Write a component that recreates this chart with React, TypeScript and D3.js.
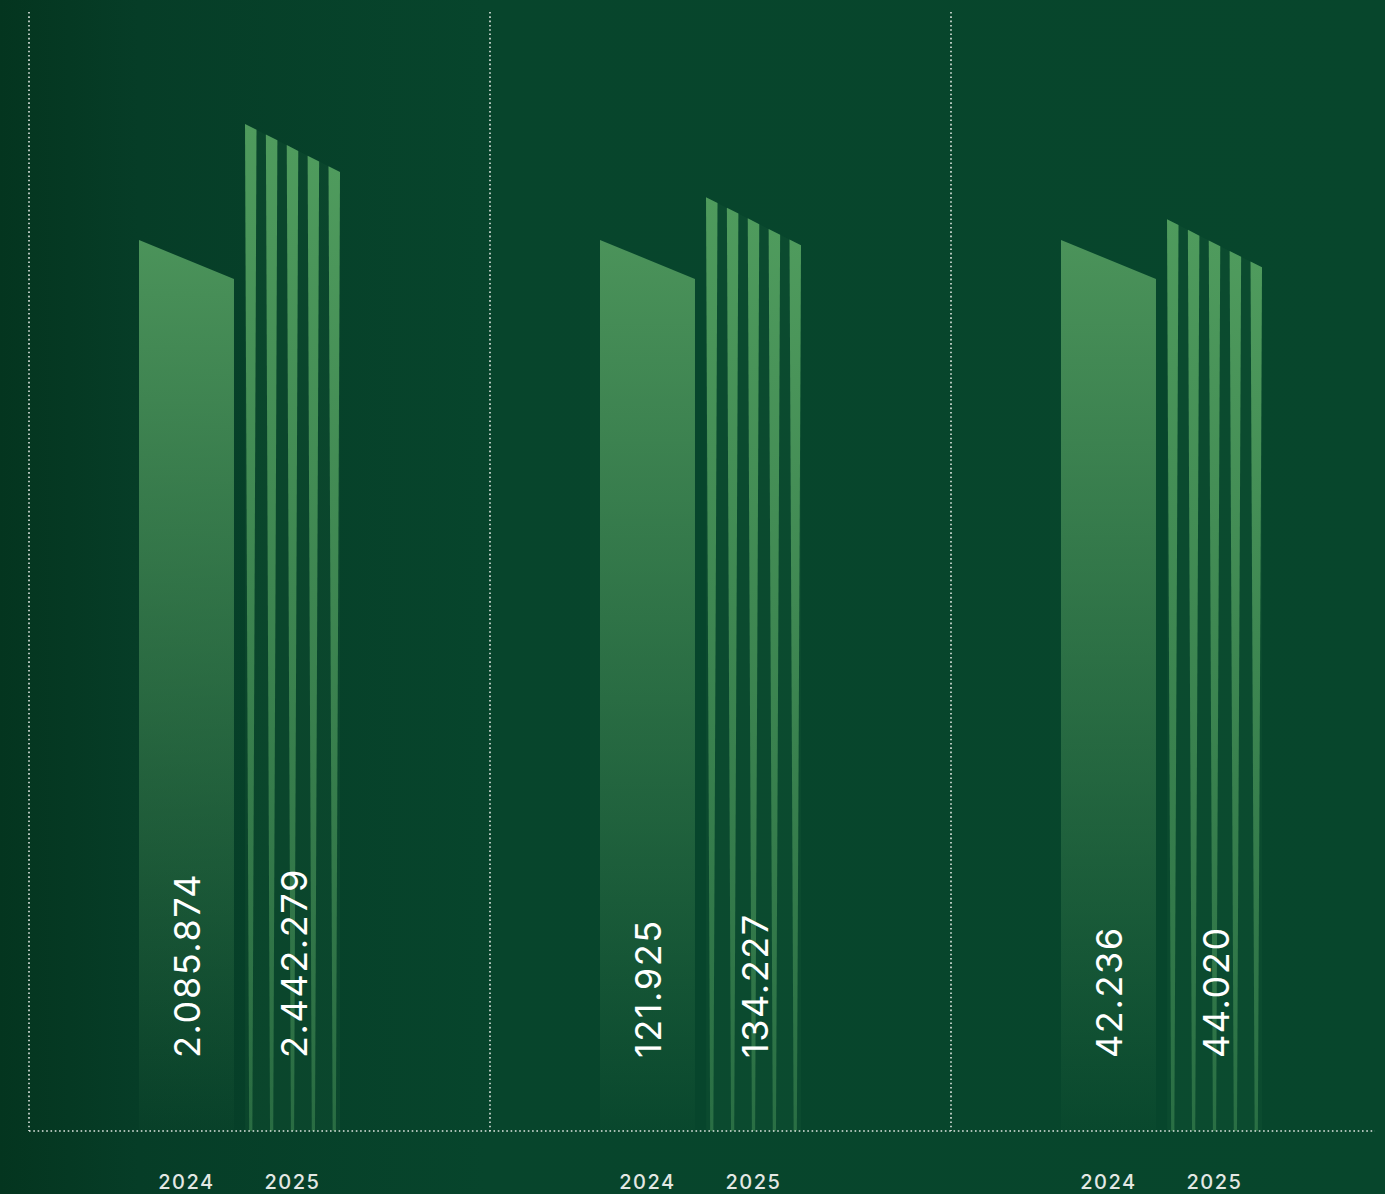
import React, { useEffect, useRef } from "react";
import * as d3 from "d3";

// one facet per metric, two years each
const groups = ["a", "b", "c"];
const years = ["2024", "2025"];
const values2024 = [2085874, 121925, 42236];
const values2025 = [2442279, 134227, 44020];
// each facet has its own truncated value axis
const axisFloor = [-651700, -134775, -34554];
const axisCeil = [2786400, 187600, 61886];
const stripeIds = [0, 1, 2, 3, 4];

const W = 1385;
const H = 1194;

const App: React.FC = () => {
  const ref = useRef<SVGSVGElement>(null);

  useEffect(() => {
    if (!ref.current) return;
    const svg = d3.select(ref.current);
    svg.selectAll("*").remove();

    const baseline = 1131;
    const plotTop = 12;
    const facetLeft = 29;
    const facetWidth = 461;

    const fmt = d3
      .formatLocale({ decimal: ",", thousands: ".", grouping: [3], currency: ["", ""] })
      .format(",");

    const defs = svg.append("defs");

    const bg = defs.append("linearGradient").attr("id", "bg").attr("x1", 0).attr("x2", 1).attr("y1", 0).attr("y2", 0);
    bg.append("stop").attr("offset", "0%").attr("stop-color", "#04351f");
    bg.append("stop").attr("offset", "10%").attr("stop-color", "#063d27");
    bg.append("stop").attr("offset", "35%").attr("stop-color", "#07452c");
    bg.append("stop").attr("offset", "100%").attr("stop-color", "#07462c");

    const g24 = defs.append("linearGradient").attr("id", "bar24").attr("x1", 0).attr("x2", 0).attr("y1", 0).attr("y2", 1);
    g24.append("stop").attr("offset", "0%").attr("stop-color", "#4b935a").attr("stop-opacity", 1);
    g24.append("stop").attr("offset", "100%").attr("stop-color", "#4b935a").attr("stop-opacity", 0.03);

    const g25 = defs.append("linearGradient").attr("id", "bar25").attr("x1", 0).attr("x2", 0).attr("y1", 0).attr("y2", 1);
    g25.append("stop").attr("offset", "0%").attr("stop-color", "#4f9b5d").attr("stop-opacity", 1);
    g25.append("stop").attr("offset", "100%").attr("stop-color", "#4f9b5d").attr("stop-opacity", 0.45);

    svg.append("rect").attr("width", W).attr("height", H).attr("fill", "url(#bg)");

    const fx = d3
      .scaleBand()
      .domain(groups)
      .range([facetLeft, facetLeft + facetWidth * groups.length]);

    const xi = d3.scaleBand().domain(years).range([110, 311]).paddingInner(0.104);
    const bw = xi.bandwidth();
    const drop24 = 39;
    const drop25 = 48;

    // dotted grid
    const dotted = (sel: d3.Selection<SVGLineElement, any, any, any>) =>
      sel
        .attr("stroke", "#dfe6e1")
        .attr("stroke-width", 1.6)
        .attr("stroke-dasharray", "1.6 2.7");

    svg
      .selectAll("line.vdiv")
      .data(groups)
      .enter()
      .append("line")
      .attr("class", "vdiv")
      .attr("x1", (d) => fx(d)!)
      .attr("x2", (d) => fx(d)!)
      .attr("y1", plotTop)
      .attr("y2", baseline)
      .call(dotted);

    groups.forEach((gid, i) => {
      const y = d3.scaleLinear().domain([axisFloor[i], axisCeil[i]]).range([baseline, plotTop]);
      const g = svg.append("g").attr("transform", `translate(${fx(gid)},0)`);

      // 2024 bar
      const x24 = xi("2024")!;
      const t24 = y(values2024[i]);
      g.append("path")
        .attr(
          "d",
          `M${x24},${baseline}L${x24},${t24}L${x24 + bw},${t24 + drop24}L${x24 + bw},${baseline}Z`
        )
        .attr("fill", "url(#bar24)");

      // 2025 bar as stripes
      const x25 = xi("2025")!;
      const t25 = y(values2025[i]);
      const topAt = (x: number) => t25 + (drop25 * (x - x25)) / bw;
      g.append("path")
        .attr(
          "d",
          `M${x25},${baseline}L${x25},${t25}L${x25 + bw},${t25 + drop25}L${x25 + bw},${baseline}Z`
        )
        .attr("fill", "#3f8f55")
        .attr("opacity", 0.08);

      const xs = d3.scaleBand<number>().domain(stripeIds).range([x25, x25 + bw]).paddingInner(0.45);
      const sw = xs.bandwidth();
      g.selectAll("path.stripe")
        .data(stripeIds)
        .enter()
        .append("path")
        .attr("class", "stripe")
        .attr("d", (s) => {
          const a = xs(s)!;
          const c = a + sw / 2;
          return `M${a},${topAt(a)}L${a + sw},${topAt(a + sw)}L${c + 1.6},${baseline}L${c - 1.6},${baseline}Z`;
        })
        .attr("fill", "url(#bar25)");

      // values
      const labels = [
        { x: x24, v: values2024[i] },
        { x: x25, v: values2025[i] },
      ];
      g.selectAll("text.val")
        .data(labels)
        .enter()
        .append("text")
        .attr("class", "val")
        .attr("transform", (d) => `translate(${d.x + bw / 2 + 14},1058) rotate(-90)`)
        .attr("text-anchor", "start")
        .attr("fill", "#ffffff")
        .style("font-family", "Inter, 'Noto Sans', sans-serif")
        .style("font-size", "36px")
        .style("letter-spacing", "1.6px")
        .text((d) => fmt(d.v));

      // year labels
      g.selectAll("text.year")
        .data(years)
        .enter()
        .append("text")
        .attr("class", "year")
        .attr("x", (d) => xi(d)! + bw / 2)
        .attr("y", 1189)
        .attr("text-anchor", "middle")
        .attr("fill", "#e3e8e4")
        .style("font-family", "Inter, 'Noto Sans', sans-serif")
        .style("font-size", "20px")
        .style("font-weight", 500)
        .style("letter-spacing", "1.5px")
        .text((d) => d);
    });

    svg
      .append("line")
      .attr("x1", facetLeft)
      .attr("x2", W - 10)
      .attr("y1", baseline)
      .attr("y2", baseline)
      .call(dotted);
  }, []);

  return (
    <svg
      ref={ref}
      width={W}
      height={H}
      style={{ position: "absolute", left: 0, top: 0, display: "block" }}
    />
  );
};

export default App;
